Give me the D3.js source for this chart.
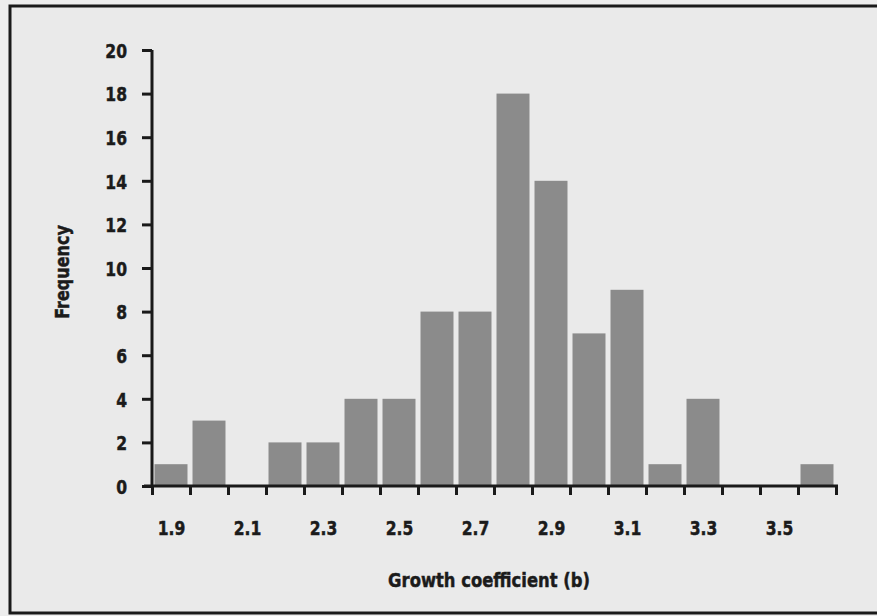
<!DOCTYPE html>
<html>
<head>
<meta charset="utf-8">
<script src="https://cdn.jsdelivr.net/npm/d3@7"></script>
<style>
  html, body { margin: 0; padding: 0; background: #ececec; }
  svg { display: block; }
  text { font-family: "DejaVu Sans", sans-serif; font-weight: bold; fill: #1b1b1b; stroke: #1b1b1b; stroke-width: 0.5px; }
</style>
</head>
<body>
<svg id="chart" width="877" height="616"></svg>
<script>
// Histogram of growth coefficient (b): bin centres and counts
const binCenters = [1.9, 2.0, 2.1, 2.2, 2.3, 2.4, 2.5, 2.6, 2.7, 2.8, 2.9, 3.0, 3.1, 3.2, 3.3, 3.4, 3.5, 3.6];
const frequencies = [1, 3, 0, 2, 2, 4, 4, 8, 8, 18, 14, 7, 9, 1, 4, 0, 0, 1];
const binWidth = 0.1;
const xLabelValues = [1.9, 2.1, 2.3, 2.5, 2.7, 2.9, 3.1, 3.3, 3.5];
const yTickValues = [0, 2, 4, 6, 8, 10, 12, 14, 16, 18, 20];
const xTitle = "Growth coefficient (b)";
const yTitle = "Frequency";

const svg = d3.select("#chart");
const W = 877, H = 616;
const plot = { left: 152, right: 836, top: 50, bottom: 486 };

// narrow the glyphs horizontally to get a condensed face
function condense(sel, sx) {
  sel.each(function () {
    const t = d3.select(this);
    const x0 = +(t.attr("x") || 0);
    t.attr("x", x0 / sx).attr("transform", `scale(${sx},1)`);
  });
}

// outer frame
svg.append("rect")
  .attr("x", 0).attr("y", 0).attr("width", W).attr("height", H)
  .attr("fill", "#ededed");
svg.append("rect")
  .attr("x", 10).attr("y", 6).attr("width", W + 10).attr("height", 607)
  .attr("fill", "#eaeaea").attr("stroke", "#1a1a1a").attr("stroke-width", 3);

const x = d3.scaleLinear()
  .domain([binCenters[0] - binWidth / 2, binCenters[binCenters.length - 1] + binWidth / 2])
  .range([plot.left, plot.right]);
const y = d3.scaleLinear().domain([0, 20]).range([plot.bottom, plot.top]);

// bars
const barPad = 2.5;
svg.append("g").selectAll("rect")
  .data(binCenters.map((c, i) => ({ c, v: frequencies[i] })).filter(d => d.v > 0))
  .join("rect")
  .attr("x", d => x(d.c - binWidth / 2) + barPad)
  .attr("width", d => x(d.c + binWidth / 2) - x(d.c - binWidth / 2) - 2 * barPad)
  .attr("y", d => y(d.v))
  .attr("height", d => y(0) - y(d.v))
  .attr("fill", "#8b8b8b");

// y axis
const yAxis = svg.append("g")
  .attr("transform", `translate(${plot.left},0)`)
  .call(d3.axisLeft(y).tickValues(yTickValues).tickSize(10).tickPadding(15).tickFormat(d3.format("d")));
yAxis.select(".domain").attr("stroke", "#1a1a1a").attr("stroke-width", 3)
  .attr("d", `M0,${plot.top}V${plot.bottom}`);
yAxis.selectAll(".tick line").attr("stroke", "#1a1a1a").attr("stroke-width", 3);
yAxis.selectAll(".tick text").attr("font-size", 20).attr("dy", "0.36em").call(condense, 0.78);

// x axis: tick marks at bin edges
const edges = binCenters.map(c => c - binWidth / 2).concat([binCenters[binCenters.length - 1] + binWidth / 2]);
const xAxis = svg.append("g")
  .attr("transform", `translate(0,${plot.bottom})`)
  .call(d3.axisBottom(x).tickValues(edges).tickSize(9).tickFormat(""));
xAxis.select(".domain").attr("stroke", "#1a1a1a").attr("stroke-width", 3)
  .attr("d", `M${plot.left - 8},0H${plot.right + 2}`);
xAxis.selectAll(".tick line").attr("stroke", "#1a1a1a").attr("stroke-width", 3);

// x labels at bin centres
const xLab = svg.append("g")
  .attr("transform", `translate(0,${plot.bottom})`)
  .call(d3.axisBottom(x).tickValues(xLabelValues).tickSize(0).tickPadding(35).tickFormat(d3.format(".1f")));
xLab.select(".domain").remove();
xLab.selectAll(".tick text").attr("font-size", 20).call(condense, 0.78);

// axis titles
svg.append("text")
  .attr("transform", `translate(${(plot.left + plot.right) / 2 - 5},587) scale(0.82,1)`)
  .attr("text-anchor", "middle").attr("font-size", 20)
  .text(xTitle);
svg.append("text")
  .attr("transform", `translate(69,${(plot.top + plot.bottom) / 2 + 4}) rotate(-90) scale(0.8,1)`)
  .attr("text-anchor", "middle").attr("font-size", 20)
  .text(yTitle);
</script>
</body>
</html>
